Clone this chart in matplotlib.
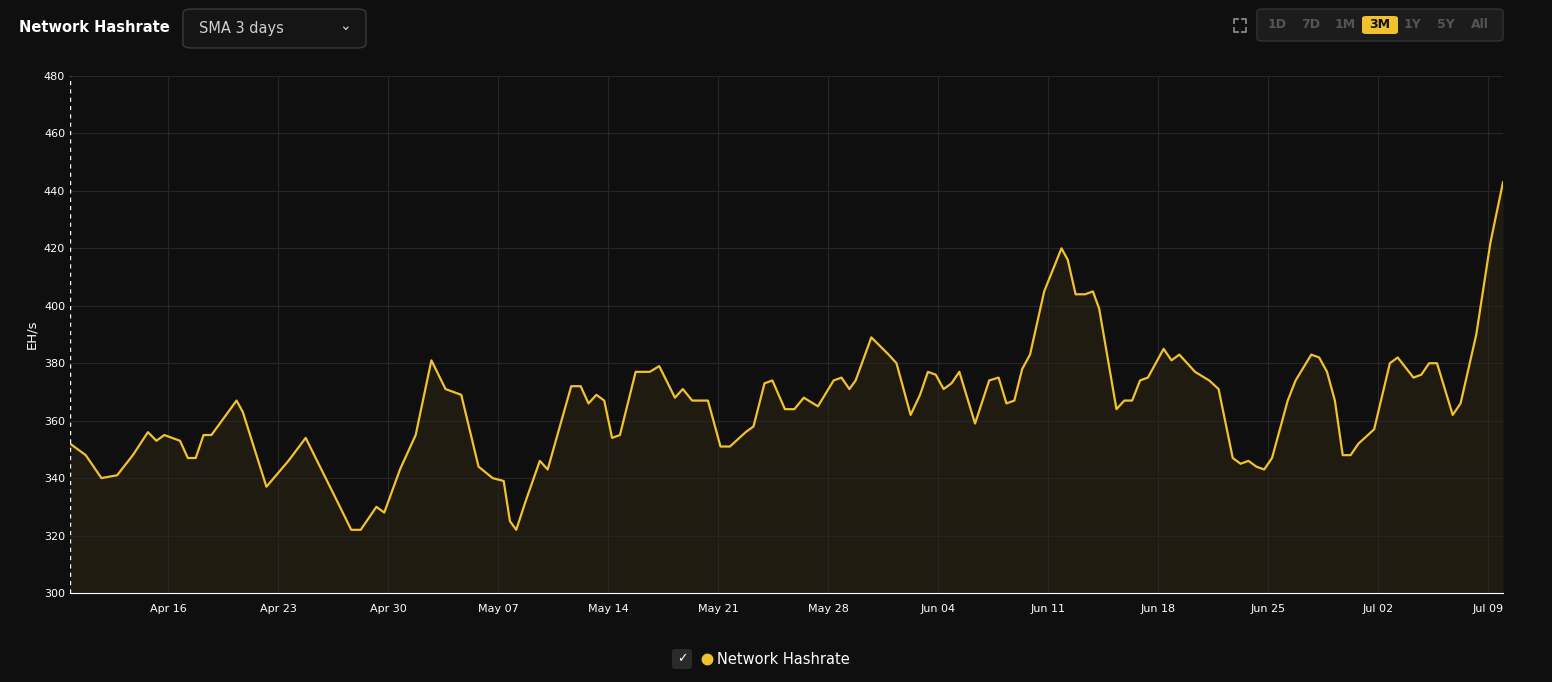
import numpy as np
import matplotlib.pyplot as plt
import matplotlib.dates as mdates
from matplotlib.patches import FancyBboxPatch
from matplotlib.lines import Line2D
import datetime as dt

# day offsets from start and hashrate (EH/s)
start = dt.datetime(2024, 4, 9, 18)
days = [0, 1.0, 2.0, 3.0, 4.0, 4.96, 5.5, 6.0, 7.0, 7.5, 8.0, 8.5, 9.0, 10.6, 11.0, 12.5, 13.9, 15.0,
        16.0, 17.0, 17.9, 18.5, 19.5, 20.0, 21.0, 22.0, 23.0, 23.9, 24.9, 26.0, 26.9, 27.6, 28.0, 28.4,
        29.0, 29.9, 30.4, 31.9, 32.5, 33.0, 33.5, 34.0, 34.5, 35.0, 36.0, 36.9, 37.5, 38.5, 39.0, 39.6,
        40.6, 41.4, 42.0, 43.0, 43.5, 44.2, 44.7, 45.5, 46.1, 46.7, 47.6, 48.6, 49.1, 49.6, 50.0, 51.0,
        52.1, 52.6, 53.5, 54.1, 54.6, 55.1, 55.6, 56.1, 56.6, 57.6, 58.5, 59.1, 59.6, 60.1, 60.6, 61.1,
        62.0, 63.1, 63.5, 64.0, 64.6, 65.1, 65.5, 66.6, 67.1, 67.6, 68.1, 68.6, 69.6, 70.1, 70.6, 71.6,
        72.5, 73.1, 74.0, 74.5, 75.0, 75.5, 76.0, 76.5, 77.5, 78.0, 79.0, 79.5, 80.0, 80.5, 81.0, 81.5,
        82.0, 83.0, 84.0, 84.5, 85.5, 86.0, 86.5, 87.0, 88.0, 88.5, 89.5, 90.4, 91.2]
hashrate = [352, 348, 340, 341, 348, 356, 353, 355, 353, 347, 347, 355, 355, 367, 363, 337, 346, 354,
            343, 332, 322, 322, 330, 328, 343, 355, 381, 371, 369, 344, 340, 339, 325, 322,
            332, 346, 343, 372, 372, 366, 369, 367, 354, 355, 377, 377, 379, 368, 371, 367,
            367, 351, 351, 356, 358, 373, 374, 364, 364, 368, 365, 374, 375, 371, 374, 389,
            383, 380, 362, 369, 377, 376, 371, 373, 377, 359, 374, 375, 366, 367, 378, 383,
            405, 420, 416, 404, 404, 405, 399, 364, 367, 367, 374, 375, 385, 381, 383, 377,
            374, 371, 347, 345, 346, 344, 343, 347, 367, 374, 383, 382, 377, 367, 348, 348,
            352, 357, 380, 382, 375, 376, 380, 380, 362, 366, 390, 422, 443]
yticks = [300, 320, 340, 360, 380, 400, 420, 440, 460, 480]
xtick_dates = [dt.datetime(2024, 4, 16) + dt.timedelta(days=7 * i) for i in range(13)]
ranges = ["1D", "7D", "1M", "3M", "1Y", "5Y", "All"]

bg = "#0f0f0f"
gold = "#f2c12e"
x = [start + dt.timedelta(days=d) for d in days]

fig = plt.figure(figsize=(15.52, 6.82), dpi=100, facecolor=bg)
ax = fig.add_axes([70 / 1552, 1 - 593 / 682, (1503 - 70) / 1552, (593 - 76) / 682], facecolor=bg)
ax.plot(x, hashrate, color=gold, lw=1.6)
ax.fill_between(x, hashrate, 300, color=gold, alpha=0.07, lw=0)
ax.set_ylim(300, 480)
ax.set_xlim(start, start + dt.timedelta(days=91.2))
ax.set_yticks(yticks)
ax.set_xticks(xtick_dates)
ax.xaxis.set_major_formatter(mdates.DateFormatter("%b %d"))
ax.grid(color="#262626", lw=0.8)
for s in ["top", "right", "left"]:
    ax.spines[s].set_visible(False)
ax.spines["bottom"].set_color("white")
ax.tick_params(colors="white", labelsize=8, length=0)
ax.tick_params(axis="x", pad=8)
ax.axvline(start, color="white", ls=(0, (3, 3)), lw=1)
ax.set_ylabel("EH/s", color="white", fontsize=9.5, labelpad=4)

# header UI
fig.text(19 / 1552, 1 - 28 / 682, "Network Hashrate", color="white", fontsize=10.5,
         fontweight="bold", va="center")
fig.patches.append(FancyBboxPatch((183 / 1552, 1 - 48 / 682), 183 / 1552, 39 / 682,
                                  boxstyle="round,pad=0,rounding_size=0.006", transform=fig.transFigure,
                                  fc="#151515", ec="#3a3a3a", lw=1))
fig.text(199 / 1552, 1 - 28 / 682, "SMA 3 days", color="#cfcfcf", fontsize=10.5, va="center")
fig.text(345 / 1552, 1 - 26 / 682, "⌄", color="#cfcfcf", fontsize=10, va="center", ha="center")
fig.patches.append(FancyBboxPatch((1257 / 1552, 1 - 41 / 682), 246 / 1552, 32 / 682,
                                  boxstyle="round,pad=0,rounding_size=0.004", transform=fig.transFigure,
                                  fc="#1c1c1c", ec="#333333", lw=1))
# fullscreen icon corners
for cx, cy, dx, dy in [(1234, 19, 1, 1), (1246, 19, -1, 1), (1234, 32, 1, -1), (1246, 32, -1, -1)]:
    fig.lines.append(Line2D([(cx + 4 * dx) / 1552, cx / 1552, cx / 1552],
                            [1 - cy / 682, 1 - cy / 682, 1 - (cy + 4 * dy) / 682],
                            transform=fig.transFigure, color="#888888", lw=1.3))
for i, r in enumerate(ranges):
    cx = (1277 + 34 * i - (1 if i > 3 else 0)) / 1552
    if r == "3M":
        fig.patches.append(FancyBboxPatch((1362 / 1552, 1 - 34 / 682), 36 / 1552, 18 / 682,
                                          boxstyle="round,pad=0,rounding_size=0.003",
                                          transform=fig.transFigure, fc=gold, ec="none"))
        fig.text(1380 / 1552, 1 - 25 / 682, r, color="#111111", fontsize=9, fontweight="bold",
                 ha="center", va="center")
    else:
        fig.text(cx, 1 - 25 / 682, r, color="#555555",
                 fontsize=9, fontweight="bold", ha="center", va="center")

# legend
fig.patches.append(FancyBboxPatch((672 / 1552, 1 - 669 / 682), 20 / 1552, 20 / 682,
                                  boxstyle="round,pad=0,rounding_size=0.003", transform=fig.transFigure,
                                  fc="#2a2a2a", ec="none"))
fig.text(682 / 1552, 1 - 659 / 682, "✓", color="white", fontsize=9, ha="center", va="center")
fig.lines.append(Line2D([707 / 1552], [1 - 659 / 682], marker="o", ms=7.5, color=gold,
                        transform=fig.transFigure))
fig.text(717 / 1552, 1 - 659 / 682, "Network Hashrate", color="white", fontsize=10.5, va="center")

fig.savefig("out.png", dpi=100, facecolor=bg)
